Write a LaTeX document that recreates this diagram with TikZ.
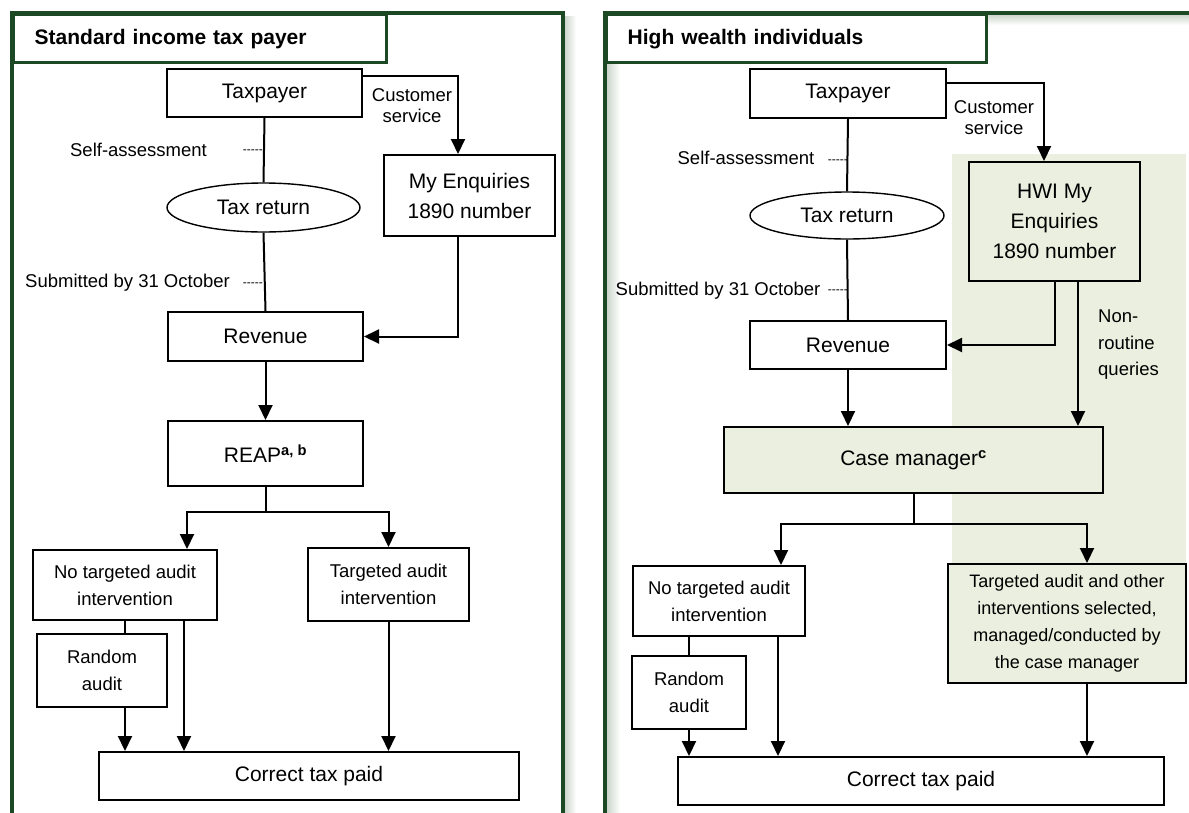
\documentclass[tikz,border=0pt]{standalone}
\usepackage{fontspec}
\setmainfont{Liberation Sans}
\usepackage{xcolor}
\usepackage{tikz}
\usetikzlibrary{arrows.meta, positioning, calc, shapes.geometric}
\definecolor{FrameGreen}{RGB}{28, 72, 36}
\definecolor{PaleOlive}{RGB}{235, 239, 223}
\definecolor{ShadeGrey}{RGB}{200, 211, 200}

\tikzset{
  flowbox/.style={draw=black, line width=2pt, fill=white, align=center, inner sep=2pt,
                  font=\fontsize{21}{30}\selectfont},
  smallbox/.style={flowbox, font=\fontsize{18.5}{27}\selectfont},
  flowoval/.style={ellipse, draw=black, line width=1.4pt, fill=white, inner sep=0pt,
                   font=\fontsize{21}{25}\selectfont},
  sidelabel/.style={inner sep=0pt, align=center, font=\fontsize{18.5}{21}\selectfont},
  dashlabel/.style={inner sep=0pt, font=\fontsize{12}{14}\selectfont},
  headbox/.style={draw=FrameGreen, line width=3.4pt, fill=white, anchor=north west,
                  inner xsep=21pt, text width=331pt, align=left, minimum height=48pt,
                  font=\fontsize{21}{25}\selectfont\bfseries},
  flowarrow/.style={-{Triangle[width=14pt,length=15pt]}, line width=2pt},
  flowline/.style={line width=2pt},
}

\begin{document}
\begin{tikzpicture}[x=1pt, y=-1pt]
  \clip (0,0) rectangle (1189,812);
  \fill[white] (0,0) rectangle (1189,812);

  % panel frames and their soft shadows
  \shade[left color=ShadeGrey, right color=white] (564,16) rectangle (576,812);
  \shade[left color=ShadeGrey, right color=white] (606,61) rectangle (620,812);
  \shade[top color=ShadeGrey, bottom color=white] (984,14) rectangle (1189,25);
  \fill[PaleOlive] (952,154) rectangle (1186,683);
  \draw[FrameGreen, line width=3.4pt] (12,830) -- (12,13) -- (563,13) -- (563,830);
  \draw[FrameGreen, line width=3.4pt] (605,830) -- (605,13) -- (1200,13);
  \node[headbox] (lhead) at (12,13) {Standard income tax payer};
  \node[headbox, text width=338pt] (rhead) at (605,13) {High wealth individuals};

  % standard income tax payer
  \node[flowbox, minimum width=195pt, minimum height=48pt] (ltax) at (264.5,93) {Taxpayer};
  \node[flowoval, minimum width=193pt, minimum height=49pt] (lret) at (263.5,207.5) {Tax return};
  \node[flowbox, minimum width=171pt, minimum height=81pt] (lenq) at (469.5,195.5) {My Enquiries\\1890 number};
  \node[flowbox, minimum width=195pt, minimum height=49pt] (lrev) at (265.5,336.5) {Revenue};
  \node[flowbox, minimum width=195pt, minimum height=65pt] (lreap) at (265.5,453.5) {REAP\textsuperscript{\textbf{a, b}}};
  \node[smallbox, minimum width=184pt, minimum height=70pt] (lnone) at (125,585) {No targeted audit\\intervention};
  \node[smallbox, minimum width=161pt, minimum height=73pt] (ltarg) at (388.5,584.5) {Targeted audit\\intervention};
  \node[smallbox, minimum width=130pt, minimum height=73pt] (lrand) at (102,670.5) {Random\\audit};
  \node[flowbox, minimum width=420pt, minimum height=48pt] (lpaid) at (309,776) {Correct tax paid};

  \node[sidelabel] (lcust) at (412,106) {Customer\\service};
  \node[sidelabel] (lself) at (138.5,150) {Self-assessment};
  \node[dashlabel, anchor=east] (lselfdash) at (263,152) {-{}-{}-{}-{}-};
  \node[sidelabel] (lsub) at (127.5,283) {Submitted by 31 October};
  \node[dashlabel, anchor=east] (lsubdash) at (263,285) {-{}-{}-{}-{}-};

  \draw[flowline] (ltax.south) -- (lret.north);
  \draw[flowline] (lret.south) -- (lrev.north);
  \draw[flowarrow] ([yshift=17pt]ltax.east) -| ([xshift=-11.5pt]lenq.north);
  \draw[flowarrow] ([xshift=-11.5pt]lenq.south) |- (lrev.east);
  \draw[flowarrow] (lrev.south) -- (lreap.north);
  \coordinate (lfork) at ($(lreap.south)+(0,25)$);
  \draw[flowline] (lreap.south) -- (lfork);
  \draw[flowarrow] (lfork) -| ([xshift=62pt]lnone.north);
  \draw[flowarrow] (lfork) -| (ltarg.north);
  \draw[flowline] (lnone.south) -- (lnone.south |- lrand.north);
  \draw[flowarrow] (lnone.south |- lrand.south) -- (lnone.south |- lpaid.north);
  \draw[flowarrow] ([xshift=59pt]lnone.south) coordinate (lnoneout) -- (lnoneout |- lpaid.north);
  \draw[flowarrow] (ltarg.south) -- (ltarg.south |- lpaid.north);

  % high wealth individuals
  \node[flowbox, minimum width=196pt, minimum height=49pt] (rtax) at (848,93.5) {Taxpayer};
  \node[flowoval, minimum width=194pt, minimum height=47pt] (rret) at (847,215.5) {Tax return};
  \node[flowbox, fill=PaleOlive, minimum width=171pt, minimum height=119pt] (rhwi) at (1054.5,221.5) {HWI My\\Enquiries\\1890 number};
  \node[flowbox, minimum width=196pt, minimum height=48pt] (rrev) at (848,345) {Revenue};
  \node[flowbox, fill=PaleOlive, minimum width=379pt, minimum height=66pt] (rcase) at (913.5,460) {Case manager\textsuperscript{\textbf{c}}};
  \node[smallbox, minimum width=172pt, minimum height=70pt] (rnone) at (719,601) {No targeted audit\\intervention};
  \node[smallbox, fill=PaleOlive, font=\fontsize{18}{27}\selectfont, minimum width=238pt, minimum height=119pt] (rtarg) at (1067,623.5) {Targeted audit and other\\interventions selected,\\managed/conducted by\\the case manager};
  \node[smallbox, minimum width=114pt, minimum height=73pt] (rrand) at (689,692.5) {Random\\audit};
  \node[flowbox, minimum width=486pt, minimum height=48pt] (rpaid) at (921,781) {Correct tax paid};

  \node[sidelabel] (rcust) at (994,117.5) {Customer\\service};
  \node[sidelabel] (rself) at (746,158) {Self-assessment};
  \node[dashlabel, anchor=east] (rselfdash) at (848,162) {-{}-{}-{}-{}-};
  \node[sidelabel] (rsub) at (718,291) {Submitted by 31 October};
  \node[dashlabel, anchor=east] (rsubdash) at (848,292) {-{}-{}-{}-{}-};
  \node[sidelabel, align=left, anchor=north west, font=\fontsize{18.5}{26.5}\selectfont] (rnonr) at (1098,310) {Non-\\routine\\queries};

  \draw[flowline] (rtax.south) -- (rret.north);
  \draw[flowline] (rret.south) -- (rrev.north);
  \draw[flowarrow] ([yshift=10.5pt]rtax.east) -| ([xshift=-10.5pt]rhwi.north);
  \draw[flowarrow] (rhwi.south) |- (rrev.east);
  \draw[flowarrow] ([xshift=23.5pt]rhwi.south) coordinate (rhwiout) -- (rhwiout |- rcase.north);
  \draw[flowarrow] (rrev.south) -- (rrev.south |- rcase.north);
  \coordinate (rfork) at ($(rcase.south)+(0,30)$);
  \draw[flowline] (rcase.south) -- (rfork);
  \draw[flowarrow] (rfork) -| ([xshift=62pt]rnone.north);
  \draw[flowarrow] (rfork) -| ([xshift=20pt]rtarg.north);
  \draw[flowline] ([xshift=-30pt]rnone.south) coordinate (rnoneleft) -- (rnoneleft |- rrand.north);
  \draw[flowarrow] (rrand.south) -- (rrand.south |- rpaid.north);
  \draw[flowarrow] ([xshift=59pt]rnone.south) coordinate (rnoneout) -- (rnoneout |- rpaid.north);
  \draw[flowarrow] ([xshift=20pt]rtarg.south) coordinate (rtargout) -- (rtargout |- rpaid.north);
\end{tikzpicture}
\end{document}
